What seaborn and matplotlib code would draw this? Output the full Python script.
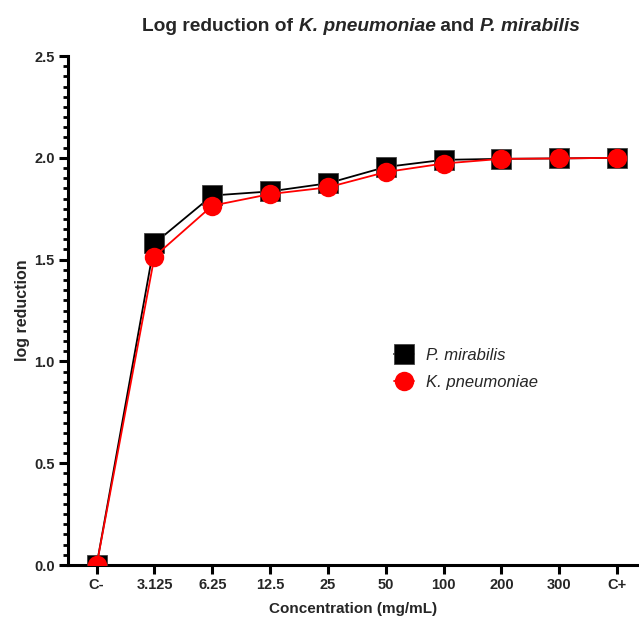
import matplotlib
matplotlib.use("Agg")
import matplotlib.pyplot as plt
import seaborn as sns
import pandas as pd
from matplotlib.ticker import MultipleLocator

categories = ["C-", "3.125", "6.25", "12.5", "25", "50", "100", "200", "300", "C+"]
p_mirabilis = [0.0, 1.58, 1.815, 1.835, 1.875, 1.955, 1.99, 1.995, 1.997, 2.0]
k_pneumoniae = [0.0, 1.515, 1.765, 1.822, 1.855, 1.93, 1.972, 1.995, 1.997, 2.0]

sns.set_theme(style="ticks")
plt.rcParams["font.family"] = ["Liberation Sans", "DejaVu Sans"]

fig = plt.figure(figsize=(6.39, 6.19), dpi=100)
ax = fig.add_axes([0.106, 0.0872, 0.894, 0.8223])

df = pd.DataFrame({
    "x": categories * 2,
    "y": p_mirabilis + k_pneumoniae,
    "species": ["P. mirabilis"] * len(categories) + ["K. pneumoniae"] * len(categories),
})

sns.lineplot(data=df[df.species == "P. mirabilis"], x="x", y="y", ax=ax, sort=False,
             color="black", marker="s", markersize=14, markeredgecolor="#444444",
             markeredgewidth=0.6, linewidth=1.3, label="P. mirabilis", zorder=3)
sns.lineplot(data=df[df.species == "K. pneumoniae"], x="x", y="y", ax=ax, sort=False,
             color="#ff0000", marker="o", markersize=14, markeredgecolor="#ff0000",
             markeredgewidth=0, linewidth=1.3, label="K. pneumoniae", zorder=4)

ax.set_xlim(-0.5, 9.38)
ax.set_ylim(0, 2.5)
ax.yaxis.set_major_locator(MultipleLocator(0.5))
ax.yaxis.set_minor_locator(MultipleLocator(0.05))
ax.yaxis.set_major_formatter(matplotlib.ticker.FormatStrFormatter("%.1f"))

for s in ["top", "right"]:
    ax.spines[s].set_visible(False)
for s in ["left", "bottom"]:
    ax.spines[s].set_linewidth(2.2)
    ax.spines[s].set_color("black")
    ax.spines[s].set_clip_on(False)

ax.tick_params(axis="both", which="major", length=6.5, width=2.2, color="black",
               labelsize=10.5, pad=3)
ax.tick_params(axis="y", which="minor", length=3.6, width=2.0, color="black")
for lab in ax.get_xticklabels() + ax.get_yticklabels():
    lab.set_fontweight("bold")

ax.set_xlabel("Concentration (mg/mL)", fontsize=11, fontweight="bold", labelpad=7)
ax.set_ylabel("log reduction", fontsize=11.5, fontweight="bold", labelpad=3)

leg = ax.legend(loc="upper left", bbox_to_anchor=(0.545, 0.456), frameon=False,
                fontsize=12, handlelength=1.2, handletextpad=0.7, labelspacing=0.72)
for t in leg.get_texts():
    t.set_fontstyle("italic")

# Title with mixed bold / bold-italic pieces
pieces = [("Log reduction of ", "normal"), ("K. pneumoniae", "italic"),
          (" and ", "normal"), ("P. mirabilis", "italic")]
fig.canvas.draw()
renderer = fig.canvas.get_renderer()
texts = []
for s, st in pieces:
    t = fig.text(0, 0.95, s, fontsize=13.8, fontweight="bold", fontstyle=st,
                 va="baseline", ha="left")
    texts.append(t)
widths = [t.get_window_extent(renderer).width / fig.bbox.width for t in texts]
total = sum(widths)
x0 = 0.565 - total / 2
for t, w in zip(texts, widths):
    t.set_x(x0)
    x0 += w

fig.savefig("out.png", dpi=100)
